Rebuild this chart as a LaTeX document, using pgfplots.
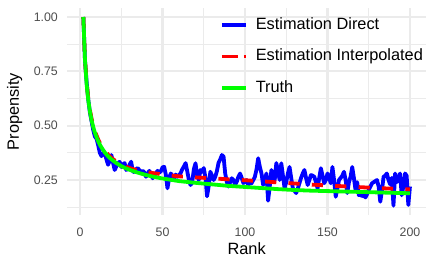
\documentclass[border=0pt]{standalone}
\usepackage{pgfplots}
\pgfplotsset{compat=1.18}
\usepackage{fontspec}
\setmainfont{Liberation Sans}
\definecolor{gridc}{HTML}{EBEBEB}
\definecolor{tickc}{HTML}{4D4D4D}
\definecolor{bl}{HTML}{0000FF}
\definecolor{rd}{HTML}{FF0000}
\definecolor{gr}{HTML}{00FF00}
\begin{document}
\begin{tikzpicture}
\useasboundingbox (0,0) rectangle (436bp,264bp);
\begin{axis}[
 at={(67bp,49bp)}, anchor=south west,
 scale only axis, width=359.3bp, height=206.9bp,
 xmin=-7.9, xmax=209.9, ymin=0.089, ymax=1.041,
 axis line style={draw=none},
 major tick length=0pt, minor tick length=0pt,
 xtick={0,50,100,150,200}, minor xtick={25,75,125,175},
 ytick={0.25,0.5,0.75,1}, minor ytick={0.125,0.375,0.625,0.875},
 yticklabels={0.25,0.50,0.75,1.00},
 grid=both,
 major grid style={line width=2.1bp, color=gridc},
 minor grid style={line width=1.05bp, color=gridc},
 tick label style={font=\fontsize{12.4}{14}\selectfont, text=tickc},
 /pgf/number format/assume math mode=true,
 xticklabel style={inner sep=0pt, anchor=north, yshift=-12.5bp},
 yticklabel style={inner sep=0pt, anchor=east, xshift=-9bp},
 xlabel={Rank}, ylabel={Propensity},
 label style={font=\fontsize{16.4}{19}\selectfont, inner sep=0pt},
 xlabel style={at={(axis description cs:0.5,-0.1933)}, anchor=base},
 ylabel style={at={(axis description cs:-0.1336,0.5)}, anchor=base},
 legend style={at={(axis description cs:0.4258,0.958)}, anchor=north west, draw=none, fill=none,
   inner sep=0pt, outer sep=0pt, row sep=15.7bp, column sep=8bp,
   font=\fontsize{16.4}{19}\selectfont,
   nodes={inner sep=0pt, text height=12.5bp, text depth=3.5bp}},
 legend cell align=left,
 legend image code/.code={\draw[#1] (0bp,0bp) -- (24bp,0bp);},
]
\addplot[bl, line width=3.8bp, line join=round] table[row sep=\\] {
x y\\
2 1.000\\ 3 0.800\\ 4 0.700\\ 5 0.620\\ 6 0.560\\ 7 0.520\\ 8 0.480\\ 9 0.450\\ 10 0.440\\
11 0.410\\ 12 0.375\\ 13 0.360\\ 14 0.372\\ 15 0.375\\ 16 0.345\\ 17 0.320\\ 18 0.340\\ 19 0.365\\ 20 0.330\\
21 0.296\\ 22 0.312\\ 23 0.327\\ 24 0.334\\ 25 0.310\\ 26 0.322\\ 27 0.328\\ 28 0.296\\ 29 0.302\\ 30 0.320\\
31 0.334\\ 32 0.290\\ 33 0.286\\ 34 0.300\\ 35 0.305\\ 36 0.295\\ 37 0.286\\ 38 0.292\\ 39 0.285\\ 40 0.265\\
41 0.280\\ 42 0.292\\ 43 0.280\\ 44 0.258\\ 45 0.270\\ 46 0.282\\ 47 0.292\\ 48 0.284\\ 49 0.290\\ 50 0.308\\
51 0.311\\ 52 0.275\\ 53 0.212\\ 54 0.258\\ 55 0.280\\ 56 0.270\\ 57 0.258\\ 58 0.275\\ 59 0.265\\ 60 0.272\\
61 0.282\\ 62 0.300\\ 63 0.312\\ 64 0.328\\ 65 0.290\\ 66 0.250\\ 67 0.227\\ 68 0.240\\ 69 0.300\\ 70 0.327\\
71 0.270\\ 72 0.250\\ 73 0.296\\ 74 0.288\\ 75 0.305\\ 76 0.262\\ 77 0.175\\ 78 0.222\\ 79 0.288\\ 80 0.270\\
81 0.250\\ 82 0.265\\ 83 0.292\\ 84 0.330\\ 85 0.345\\ 86 0.365\\ 87 0.358\\ 88 0.280\\ 89 0.240\\ 90 0.220\\
91 0.240\\ 92 0.258\\ 93 0.250\\ 94 0.227\\ 95 0.242\\ 96 0.265\\ 97 0.280\\ 98 0.260\\ 99 0.236\\ 100 0.242\\
101 0.250\\ 102 0.227\\ 103 0.240\\ 104 0.235\\ 105 0.250\\ 106 0.265\\ 107 0.300\\ 108 0.350\\ 109 0.310\\ 110 0.280\\
111 0.227\\ 112 0.250\\ 113 0.280\\ 114 0.155\\ 115 0.220\\ 116 0.296\\ 117 0.270\\ 118 0.250\\ 119 0.328\\ 120 0.290\\
121 0.250\\ 122 0.327\\ 123 0.270\\ 124 0.212\\ 125 0.240\\ 126 0.280\\ 127 0.310\\ 128 0.260\\ 129 0.212\\ 130 0.200\\
131 0.190\\ 132 0.210\\ 133 0.235\\ 134 0.260\\ 135 0.280\\ 136 0.296\\ 137 0.260\\ 138 0.227\\ 139 0.250\\ 140 0.273\\
141 0.270\\ 142 0.265\\ 143 0.240\\ 144 0.212\\ 145 0.260\\ 146 0.304\\ 147 0.270\\ 148 0.235\\ 149 0.250\\ 150 0.280\\
151 0.260\\ 152 0.235\\ 153 0.310\\ 154 0.250\\ 155 0.173\\ 156 0.210\\ 157 0.250\\ 158 0.260\\ 159 0.270\\ 160 0.288\\
161 0.250\\ 162 0.190\\ 163 0.240\\ 164 0.265\\ 165 0.310\\ 166 0.260\\ 167 0.204\\ 168 0.240\\ 169 0.180\\ 170 0.185\\
171 0.175\\ 172 0.180\\ 173 0.170\\ 174 0.185\\ 175 0.204\\ 176 0.220\\ 177 0.235\\ 178 0.240\\ 179 0.245\\ 180 0.250\\
181 0.220\\ 182 0.150\\ 183 0.200\\ 184 0.265\\ 185 0.270\\ 186 0.280\\ 187 0.250\\ 188 0.230\\ 189 0.260\\ 190 0.132\\
191 0.280\\ 192 0.240\\ 193 0.260\\ 194 0.280\\ 195 0.180\\ 196 0.220\\ 197 0.280\\ 198 0.270\\ 199 0.135\\ 200 0.220\\
};
\addlegendentry{Estimation Direct}
\addplot[rd, line width=3.8bp, line cap=butt, dash pattern=on 11.2bp off 12.2bp,
  legend image code/.code={\draw[rd, line width=3.8bp, dash pattern=on 16bp off 6bp] (0bp,0bp) -- (24bp,0bp);}] table[row sep=\\] {
x y\\
2 1.000\\ 3 0.805\\ 4 0.700\\ 5 0.625\\ 6 0.572\\ 7 0.532\\ 8 0.500\\ 9 0.475\\ 10 0.455\\
11 0.437\\ 12 0.421\\ 13 0.407\\ 14 0.396\\ 15 0.385\\ 16 0.376\\ 17 0.367\\ 18 0.359\\ 19 0.352\\ 20 0.346\\
22 0.335\\ 25 0.322\\ 28 0.311\\ 30 0.305\\ 35 0.294\\ 40 0.287\\ 45 0.281\\ 50 0.276\\ 55 0.271\\ 60 0.267\\
70 0.262\\ 80 0.258\\ 90 0.253\\ 100 0.249\\ 110 0.244\\ 120 0.239\\ 130 0.234\\ 140 0.229\\ 150 0.225\\
160 0.221\\ 170 0.217\\ 180 0.213\\ 190 0.210\\ 200 0.207\\
};
\addlegendentry{Estimation Interpolated}
\addplot[gr, line width=3.8bp, line join=round] table[row sep=\\] {
x y\\
2 1.000\\ 3 0.802\\ 4 0.691\\ 5 0.617\\ 6 0.565\\ 7 0.525\\ 8 0.494\\ 9 0.468\\ 10 0.447\\
11 0.429\\ 12 0.413\\ 13 0.400\\ 14 0.388\\ 15 0.377\\ 16 0.368\\ 17 0.359\\ 18 0.352\\ 19 0.345\\ 20 0.339\\
22 0.328\\ 25 0.314\\ 28 0.303\\ 30 0.297\\ 35 0.284\\ 40 0.273\\ 45 0.264\\ 50 0.257\\ 60 0.245\\
70 0.237\\ 80 0.230\\ 90 0.223\\ 100 0.218\\ 110 0.213\\ 120 0.208\\ 130 0.204\\ 140 0.201\\ 150 0.199\\
160 0.197\\ 170 0.195\\ 180 0.193\\ 190 0.191\\ 200 0.189\\
};
\addlegendentry{Truth}
\end{axis}
\end{tikzpicture}
\end{document}
